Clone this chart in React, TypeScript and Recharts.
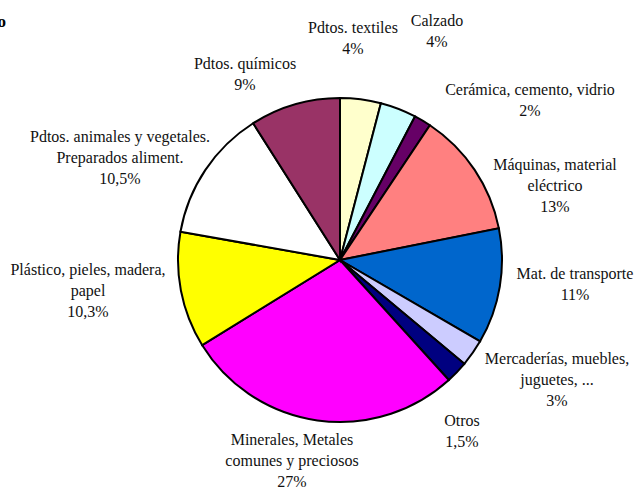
import { PieChart, Pie, Cell } from "recharts"

// slices clockwise from 12 o'clock
const names = [
  "Pdtos. textiles",
  "Calzado",
  "Cerámica, cemento, vidrio",
  "Máquinas, material eléctrico",
  "Mat. de transporte",
  "Mercaderías, muebles, juguetes, ...",
  "Otros",
  "Minerales, Metales comunes y preciosos",
  "Plástico, pieles, madera, papel",
  "Pdtos. animales y vegetales. Preparados aliment.",
  "Pdtos. químicos",
]
// slice shares as drawn
const shares = [4.06, 3.6, 1.7, 12.5, 11.5, 2.7, 2.2, 27.9, 11.6, 13.2, 9.0]
// printed percentages
const pctLabels = ["4%", "4%", "2%", "13%", "11%", "3%", "1,5%", "27%", "10,3%", "10,5%", "9%"]
// how the label text breaks into lines
const labelLines = [
  ["Pdtos. textiles"],
  ["Calzado"],
  ["Cerámica, cemento, vidrio"],
  ["Máquinas, material", "eléctrico"],
  ["Mat. de transporte"],
  ["Mercaderías, muebles,", "juguetes, ..."],
  ["Otros"],
  ["Minerales, Metales", "comunes y preciosos"],
  ["Plástico, pieles, madera,", "papel"],
  ["Pdtos. animales y vegetales.", "Preparados aliment."],
  ["Pdtos. químicos"],
]

const COLORS = [
  "#FFFFCC",
  "#CCFFFF",
  "#660066",
  "#FF8080",
  "#0066CC",
  "#CCCCFF",
  "#000080",
  "#FF00FF",
  "#FFFF00",
  "#FFFFFF",
  "#993366",
]

// label block centres, relative to the pie centre (Excel placed them by hand)
const LABEL_OFFSETS: Array<[number, number]> = [
  [13, -223],
  [97, -230],
  [190, -161],
  [215, -75],
  [235, 23],
  [217, 119],
  [122, 170],
  [-48, 200],
  [-252, 30],
  [-220, -103],
  [-95, -187],
]

const data = names.map((name, i) => ({ name, value: shares[i] }))

const FONT = "Liberation Serif, Times New Roman, serif"
const LINE_H = 21

const renderLabel = (props: any) => {
  const { cx, cy, index } = props
  const lines = [...labelLines[index], pctLabels[index]]
  const [dx, dy] = LABEL_OFFSETS[index]
  const top = cy + dy - ((lines.length - 1) * LINE_H) / 2
  return (
    <text
      x={cx + dx}
      y={top}
      textAnchor="middle"
      dominantBaseline="central"
      fill="#111"
      style={{ fontFamily: FONT, fontSize: 16 }}
    >
      {lines.map((l, k) => (
        <tspan key={k} x={cx + dx} y={top + k * LINE_H}>
          {l}
        </tspan>
      ))}
    </text>
  )
}

export default function App() {
  return (
    <div style={{ position: "absolute", left: 0, top: 0, background: "#fff", fontFamily: FONT }}>
      <PieChart width={635} height={488} margin={{ top: 0, right: 0, bottom: 0, left: 0 }}>
        <text
          x={6}
          y={27}
          textAnchor="end"
          fill="#000"
          style={{ fontFamily: FONT, fontSize: 17, fontWeight: "bold" }}
        >
          o
        </text>
        <Pie
          data={data}
          dataKey="value"
          nameKey="name"
          cx={340}
          cy={260}
          outerRadius={162}
          startAngle={90}
          endAngle={-270}
          stroke="#000"
          strokeWidth={2}
          label={renderLabel}
          labelLine={false}
          isAnimationActive={false}
        >
          {data.map((d, i) => (
            <Cell key={d.name} fill={COLORS[i]} />
          ))}
        </Pie>
      </PieChart>
    </div>
  )
}
